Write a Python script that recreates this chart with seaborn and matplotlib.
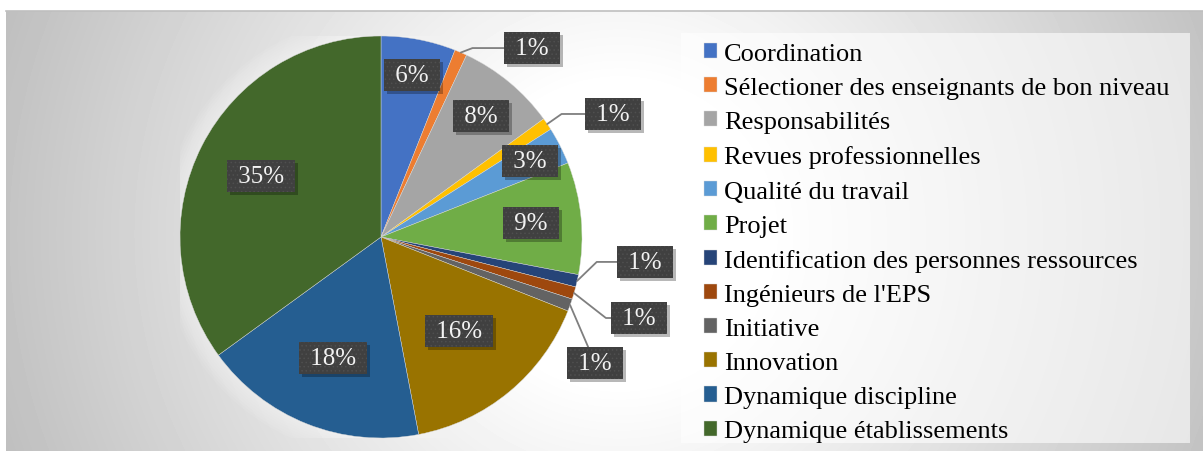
import numpy as np
import matplotlib
matplotlib.use('Agg')
import matplotlib.pyplot as plt
import matplotlib.patches as mpatches
import matplotlib.transforms as mtransforms
import seaborn as sns

# Données du graphique
CATEGORIES = ['Coordination', 'Sélectioner des enseignants de bon niveau', 'Responsabilités',
              'Revues professionnelles', 'Qualité du travail', 'Projet',
              'Identification des personnes ressources', "Ingénieurs de l'EPS", 'Initiative',
              'Innovation', 'Dynamique discipline', 'Dynamique établissements']
VALUES = [6, 1, 8, 1, 3, 9, 1, 1, 1, 16, 18, 35]
COLORS = ['#4472C4', '#ED7D31', '#A5A5A5', '#FFC000', '#5B9BD5', '#70AD47',
          '#264478', '#9E480E', '#636363', '#997300', '#255E91', '#43682B']

# Placement des étiquettes (unités du rayon)
INNER_DIST = {0: 0.82, 2: 0.78, 4: 0.83, 5: 0.75, 9: 0.61, 10: 0.65, 11: 0.67}
OUTER_POS = {1: (0.75, 0.94, 21), 3: (1.154, 0.612, 35), 6: (1.313, -0.124, 44),
             7: (1.284, -0.403, -38), 8: (1.065, -0.627, None)}

W, H = 1203, 452


def draw_background(fig):
    bg = fig.add_axes([6 / W, 0, (W - 6) / W, (H - 12) / H])
    xs = np.arange(6, W) + 0.5
    ys = np.arange(12, H) + 0.5
    xx, yy = np.meshgrid(xs, ys)
    d = np.hypot(xx - 620, yy - 235)
    v = np.clip(255 - 60 * (d - 150) / 470, 190, 255) / 255
    bg.imshow(v, cmap='gray', vmin=0, vmax=1, aspect='auto', interpolation='bilinear')
    bg.set_xticks([])
    bg.set_yticks([])
    for side in ['left', 'right', 'bottom']:
        bg.spines[side].set_visible(False)
    bg.spines['top'].set_color('#bfbfbf')
    bg.spines['top'].set_linewidth(1.2)


def main():
    sns.set_theme(style='white')
    plt.rcParams['font.family'] = ['Liberation Serif', 'DejaVu Serif']
    plt.rcParams['hatch.linewidth'] = 0.6

    fig = plt.figure(figsize=(W / 100, H / 100), dpi=100)
    fig.patch.set_facecolor('white')
    draw_background(fig)

    ax = fig.add_axes([180 / W, 13 / H, 402 / W, 402 / H])

    # halo léger autour du camembert
    for k in range(8):
        ax.add_patch(mpatches.Circle((0, 0), 1.0 + 0.012 * (k + 1), facecolor='white',
                                     edgecolor='none', alpha=0.07, zorder=0))

    palette = sns.color_palette(COLORS)
    wedges, _ = ax.pie(VALUES, colors=palette, startangle=90, counterclock=False, radius=1,
                       wedgeprops=dict(linewidth=0.3, edgecolor='#d9d9d9'))
    ax.set_xlim(-1, 1)
    ax.set_ylim(-1, 1)
    ax.axis('off')

    box = dict(boxstyle='square,pad=0.2', facecolor='#404040', edgecolor='#4f4f4f',
               linewidth=0, hatch='....')
    total = sum(VALUES)
    cum = 0
    labels = []
    for i, v in enumerate(VALUES):
        mid = 90 - 360 * (cum + v / 2) / total
        cum += v
        c, s = np.cos(np.radians(mid)), np.sin(np.radians(mid))
        label = f' {v}% '
        if i in INNER_DIST:
            r = INNER_DIST[i]
            t = ax.text(r * c, r * s, label, ha='center', va='center', color='#f2f2f2',
                        fontsize=18, bbox=box, zorder=5)
        else:
            x, y, ang = OUTER_POS[i]
            t = ax.text(x, y, label, ha='center', va='center', color='#f2f2f2',
                        fontsize=18, bbox=box, zorder=5)
            if ang is None:
                cs = 'arc3,rad=0'
            else:
                cs = f'angle,angleA=0,angleB={ang},rad=0'
            ax.annotate('', xy=(c, s), xytext=(x, y), annotation_clip=False, zorder=3,
                        arrowprops=dict(arrowstyle='-', color='#7f7f7f', lw=1.3,
                                        connectionstyle=cs, patchA=t.get_bbox_patch(),
                                        shrinkA=0, shrinkB=0))
        labels.append(t)

    # ombre portée sous les étiquettes
    fig.canvas.draw()
    for t in labels:
        bb = t.get_bbox_patch().get_window_extent()
        ax.add_patch(mpatches.Rectangle((bb.x0 + 3, bb.y0 - 3), bb.width, bb.height,
                                        transform=mtransforms.IdentityTransform(),
                                        facecolor='black', alpha=0.28, linewidth=0,
                                        zorder=4, clip_on=False))

    # cadre de la légende
    fig.patches.append(mpatches.Rectangle((681 / W, (H - 444) / H), 509 / W, 410 / H,
                                          transform=fig.transFigure, facecolor='white',
                                          alpha=0.6, edgecolor='none', zorder=1))
    leg = fig.legend(wedges, CATEGORIES, loc='upper left', bbox_to_anchor=(704 / W, 1 - 44 / H),
                     frameon=False, fontsize=19, handlelength=0.5, handleheight=0.5,
                     handletextpad=0.25, labelspacing=0.46, borderpad=0, borderaxespad=0)
    for txt in leg.get_texts():
        txt.set_color('black')

    fig.savefig('out.png', dpi=100)


if __name__ == '__main__':
    main()
